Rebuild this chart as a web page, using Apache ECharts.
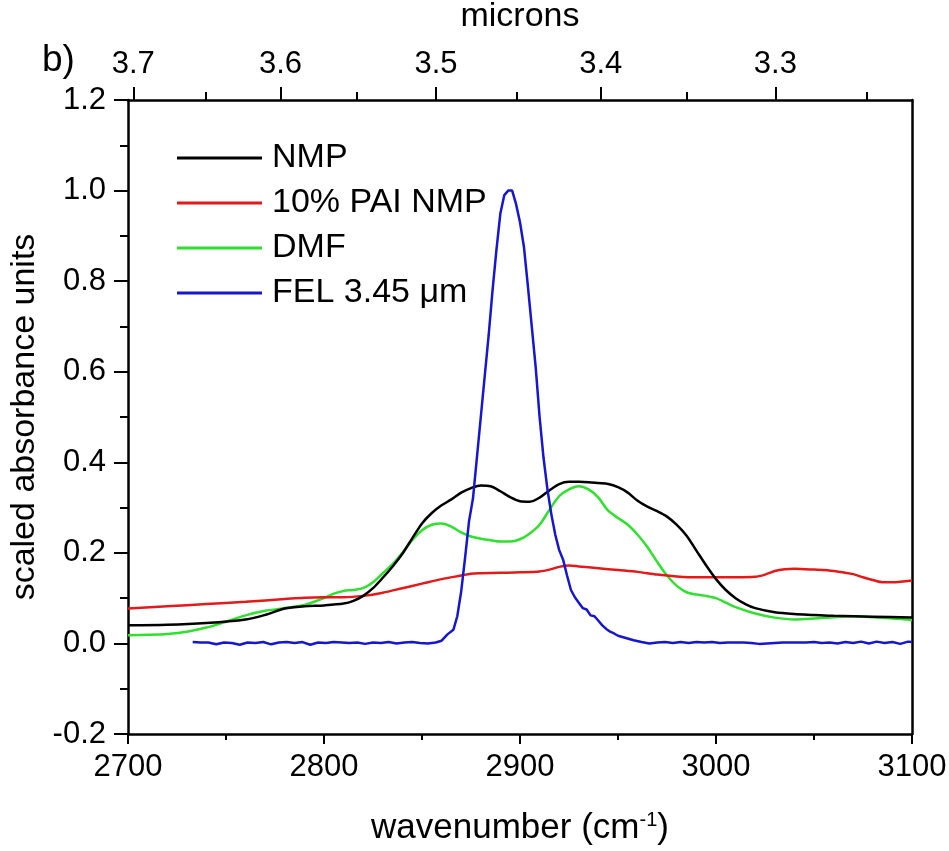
<!DOCTYPE html>
<html>
<head>
<meta charset="utf-8">
<title>Scaled absorbance spectra</title>
<script src="https://cdn.jsdelivr.net/npm/echarts@6/dist/echarts.min.js"></script>
<style>
  html, body { margin: 0; padding: 0; background: #fff; }
  #chart { width: 949px; height: 851px; }
</style>
</head>
<body>
<div id="chart"></div>
<script>
// Wavenumber (cm-1) grids and scaled absorbance for each sample
const nmpWn = [2700, 2720, 2740, 2760, 2770, 2780, 2790, 2800, 2810, 2815, 2820, 2825, 2830, 2835, 2840, 2845, 2850, 2855, 2860, 2865, 2870, 2875, 2880, 2885, 2890, 2895, 2900, 2905, 2910, 2915, 2920, 2925, 2930, 2935, 2940, 2945, 2950, 2955, 2960, 2965, 2970, 2975, 2980, 2985, 2990, 2995, 3000, 3005, 3010, 3015, 3020, 3030, 3040, 3050, 3060, 3080, 3100];
const nmpAbs = [0.040, 0.041, 0.045, 0.053, 0.063, 0.077, 0.082, 0.084, 0.088, 0.094, 0.105, 0.122, 0.145, 0.170, 0.198, 0.232, 0.265, 0.288, 0.305, 0.318, 0.333, 0.343, 0.349, 0.347, 0.336, 0.323, 0.314, 0.313, 0.322, 0.338, 0.352, 0.357, 0.357, 0.356, 0.354, 0.352, 0.345, 0.333, 0.315, 0.302, 0.292, 0.280, 0.262, 0.238, 0.205, 0.172, 0.142, 0.118, 0.100, 0.087, 0.078, 0.069, 0.065, 0.063, 0.061, 0.059, 0.057];

const paiWn = [2700, 2720, 2740, 2760, 2780, 2790, 2800, 2810, 2820, 2830, 2840, 2850, 2860, 2870, 2875, 2880, 2890, 2900, 2910, 2915, 2920, 2925, 2930, 2940, 2950, 2960, 2970, 2980, 2990, 3000, 3010, 3020, 3025, 3030, 3035, 3040, 3050, 3060, 3070, 3075, 3080, 3085, 3090, 3100];
const paiAbs = [0.077, 0.082, 0.087, 0.092, 0.098, 0.101, 0.102, 0.102, 0.105, 0.112, 0.122, 0.132, 0.142, 0.150, 0.154, 0.155, 0.156, 0.157, 0.159, 0.163, 0.169, 0.172, 0.170, 0.166, 0.162, 0.158, 0.152, 0.148, 0.146, 0.146, 0.146, 0.147, 0.152, 0.160, 0.164, 0.165, 0.163, 0.160, 0.153, 0.146, 0.140, 0.135, 0.135, 0.139];

const dmfWn = [2700, 2710, 2720, 2730, 2740, 2750, 2760, 2770, 2780, 2790, 2795, 2800, 2805, 2810, 2815, 2820, 2825, 2830, 2835, 2840, 2845, 2850, 2855, 2860, 2865, 2870, 2875, 2880, 2885, 2890, 2895, 2900, 2905, 2910, 2915, 2920, 2925, 2930, 2935, 2940, 2945, 2950, 2955, 2960, 2965, 2970, 2975, 2980, 2985, 2990, 2995, 3000, 3005, 3010, 3020, 3030, 3040, 3050, 3060, 3070, 3080, 3090, 3100];
const dmfAbs = [0.018, 0.019, 0.021, 0.026, 0.035, 0.048, 0.062, 0.072, 0.078, 0.085, 0.092, 0.100, 0.110, 0.116, 0.118, 0.122, 0.135, 0.155, 0.175, 0.200, 0.228, 0.250, 0.262, 0.265, 0.258, 0.245, 0.236, 0.231, 0.228, 0.225, 0.225, 0.230, 0.243, 0.262, 0.295, 0.325, 0.340, 0.347, 0.340, 0.322, 0.293, 0.277, 0.262, 0.240, 0.213, 0.180, 0.150, 0.127, 0.113, 0.108, 0.105, 0.100, 0.090, 0.080, 0.066, 0.057, 0.053, 0.055, 0.058, 0.060, 0.058, 0.055, 0.052];

const felWn = [2733, 2737, 2741, 2745, 2749, 2753, 2757, 2761, 2765, 2769, 2773, 2777, 2781, 2785, 2789, 2793, 2797, 2801, 2805, 2809, 2813, 2817, 2821, 2825, 2829, 2833, 2837, 2841, 2845, 2849, 2853, 2857, 2860, 2863, 2866, 2868, 2870, 2872, 2874, 2876, 2878, 2880, 2882, 2884, 2886, 2888, 2890, 2892, 2894, 2896, 2898, 2900, 2902, 2904, 2906, 2908, 2910, 2912, 2914, 2916, 2918, 2920, 2922, 2924, 2926, 2928, 2930, 2932, 2934, 2936, 2938, 2940, 2942, 2944, 2946, 2948, 2950, 2954, 2958, 2962, 2966, 2970, 2974, 2978, 2982, 2986, 2990, 2994, 2998, 3002, 3006, 3010, 3014, 3018, 3022, 3026, 3030, 3034, 3038, 3042, 3046, 3050, 3054, 3058, 3062, 3066, 3070, 3074, 3078, 3082, 3086, 3090, 3094, 3098, 3100];
const felAbs = [0.003, 0.002, 0.002, -0.002, 0.002, 0.001, -0.003, 0.002, 0.001, 0.003, -0.002, 0.002, 0.003, 0.001, 0.003, -0.003, 0.002, 0.001, 0.003, 0.002, 0.001, 0.002, -0.001, 0.002, 0.001, 0.003, 0.000, 0.002, 0.003, 0.001, 0.000, 0.002, 0.006, 0.020, 0.030, 0.060, 0.115, 0.190, 0.270, 0.320, 0.410, 0.500, 0.590, 0.680, 0.780, 0.870, 0.950, 0.990, 1.000, 1.000, 0.970, 0.930, 0.876, 0.790, 0.700, 0.610, 0.500, 0.410, 0.340, 0.285, 0.240, 0.206, 0.185, 0.150, 0.118, 0.102, 0.090, 0.078, 0.075, 0.062, 0.060, 0.050, 0.040, 0.032, 0.026, 0.022, 0.017, 0.012, 0.007, 0.003, 0.000, 0.002, 0.003, 0.001, 0.003, 0.001, 0.003, 0.002, 0.003, 0.001, 0.002, 0.002, 0.002, 0.001, -0.001, 0.000, 0.001, 0.002, 0.002, 0.002, 0.002, 0.003, 0.001, 0.002, 0.000, 0.003, 0.001, 0.004, 0.000, 0.004, 0.001, 0.003, -0.001, 0.004, 0.003];

// Secondary (top) axis: wavelength in microns, placed at 10000 / wavelength
const micronMajor = [3.7, 3.6, 3.5, 3.4, 3.3];
const micronMinor = [3.65, 3.55, 3.45, 3.35, 3.25];

const seriesNames = ['NMP', '10% PAI NMP', 'DMF', 'FEL 3.45 \u03bcm'];
const seriesColors = ['#000000', '#e41a1a', '#2fe02f', '#1616d0'];

const FONT = '"Liberation Sans", Arial, Helvetica, sans-serif';
const toWn = um => 10000 / um;
const pairs = (xs, ys) => xs.map((x, i) => [x, ys[i]]);

const chart = echarts.init(document.getElementById('chart'), null, { renderer: 'canvas' });

const axisLineStyle = { color: '#000', width: 2.5 };
const tickStyle = { color: '#000', width: 2 };
const tickFont = { fontFamily: FONT, fontSize: 31, color: '#000' };

const option = {
  backgroundColor: '#fff',
  animation: false,
  grid: { left: 128, right: 37, top: 100, bottom: 117, containLabel: false, outerBoundsMode: 'none' },
  legend: {
    orient: 'vertical',
    left: 172,
    top: 136,
    itemWidth: 85,
    itemHeight: 3,
    itemGap: 11,
    icon: 'rect',
    data: seriesNames,
    textStyle: { fontFamily: FONT, fontSize: 34, color: '#000', padding: [0, 0, 0, 5] }
  },
  graphic: [{
    type: 'text',
    left: 42,
    top: 42,
    style: { text: 'b)', font: '37px ' + FONT, fill: '#000' }
  }],
  xAxis: [
    {
      type: 'value', position: 'bottom', min: 2700, max: 3100, interval: 100,
      axisLine: { show: true, onZero: false, lineStyle: axisLineStyle },
      axisTick: { show: true, length: 10, lineStyle: tickStyle },
      minorTick: { show: true, splitNumber: 2, length: 6, lineStyle: tickStyle },
      splitLine: { show: false },
      axisLabel: Object.assign({ margin: 18, formatter: v => String(v) }, tickFont),
      name: 'wavenumber (cm{sup|-1})',
      nameLocation: 'middle',
      nameGap: 76,
      nameTextStyle: {
        fontFamily: FONT, fontSize: 35, color: '#000',
        rich: { sup: { fontFamily: FONT, fontSize: 20, color: '#000', verticalAlign: 'top', padding: [0, 0, 16, 0] } }
      }
    },
    {
      type: 'value', position: 'top', min: 2700, max: 3100,
      axisLine: { show: true, onZero: false, lineStyle: axisLineStyle },
      axisTick: { show: true, length: 13, lineStyle: tickStyle, customValues: micronMajor.map(toWn) },
      splitLine: { show: false },
      axisLabel: Object.assign({
        margin: 20,
        customValues: micronMajor.map(toWn),
        formatter: v => (10000 / v).toFixed(1)
      }, tickFont),
      name: 'microns',
      nameLocation: 'middle',
      nameGap: 66,
      nameTextStyle: { fontFamily: FONT, fontSize: 34, color: '#000' }
    },
    {
      type: 'value', position: 'top', min: 2700, max: 3100,
      axisLine: { show: false, onZero: false },
      axisTick: { show: true, length: 8, lineStyle: tickStyle, customValues: micronMinor.map(toWn) },
      axisLabel: { show: false, customValues: [] },
      splitLine: { show: false }
    }
  ],
  yAxis: [
    {
      type: 'value', position: 'left', min: -0.2, max: 1.2, interval: 0.2,
      axisLine: { show: true, onZero: false, lineStyle: axisLineStyle },
      axisTick: { show: true, length: 14, lineStyle: tickStyle },
      minorTick: { show: true, splitNumber: 2, length: 8, lineStyle: tickStyle },
      splitLine: { show: false },
      axisLabel: Object.assign({ margin: 22, formatter: v => v.toFixed(1) }, tickFont),
      name: 'scaled absorbance units',
      nameLocation: 'middle',
      nameGap: 82,
      nameTextStyle: { fontFamily: FONT, fontSize: 34, color: '#000' }
    },
    {
      type: 'value', position: 'right', min: -0.2, max: 1.2, interval: 0.2,
      axisLine: { show: true, onZero: false, lineStyle: axisLineStyle },
      axisTick: { show: false },
      axisLabel: { show: false },
      splitLine: { show: false }
    }
  ],
  series: [
    { name: seriesNames[0], data: pairs(nmpWn, nmpAbs), smooth: 0.3 },
    { name: seriesNames[1], data: pairs(paiWn, paiAbs), smooth: 0.3 },
    { name: seriesNames[2], data: pairs(dmfWn, dmfAbs), smooth: 0.3 },
    { name: seriesNames[3], data: pairs(felWn, felAbs), smooth: false }
  ].map((s, i) => Object.assign({
    type: 'line',
    xAxisIndex: 0,
    yAxisIndex: 0,
    symbol: 'none',
    color: seriesColors[i],
    lineStyle: { color: seriesColors[i], width: 2.5 },
    z: i === 3 ? 4 : 3 - i
  }, s))
};

chart.setOption(option);
</script>
</body>
</html>
